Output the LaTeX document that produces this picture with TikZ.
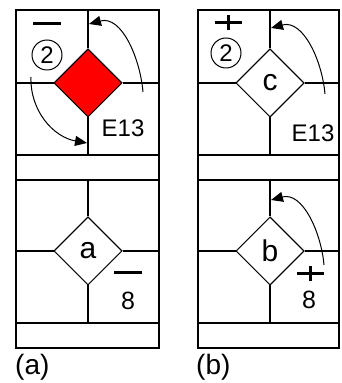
\documentclass[tikz,border=0pt]{standalone}
\usepackage{fontspec}
\setmainfont{Liberation Sans}
\usetikzlibrary{shapes.geometric,arrows.meta}

\tikzset{
    cell/.style={line width=2.5pt},
    gate/.style={diamond, draw, line width=1pt, fill=white, minimum width=68pt,
        minimum height=68pt, inner sep=0pt, font=\fontsize{30}{30}\selectfont},
    ring/.style={circle, draw, line width=1pt, minimum size=30pt, inner sep=0pt,
        font=\fontsize{24}{24}\selectfont},
    turn/.style={line width=1pt, -{Triangle[length=12pt,width=10pt]}},
    sign/.style={line width=3pt},
    lbl/.style={inner sep=0pt, font=\fontsize{25}{25}\selectfont},
    code/.style={inner sep=0pt, font=\fontsize{24}{24}\selectfont},
    caption/.style={inner sep=0pt, anchor=west, font=\fontsize{28}{28}\selectfont},
}

\begin{document}
\begin{tikzpicture}[x=1pt, y=1pt]
\useasboundingbox (0,0) rectangle (342,383);

% diamonds
\node [gate, fill=red] (leftTop) at (88,300) {};
\node [gate] (rightTop) at (270,300) {c};
\node [gate] (leftLow) at (88,132) {a};
\node [gate] (rightLow) at (270,132) {b};

% columns
\foreach \xl/\xm/\xr/\g in {16/88/159/left, 198/270/339/right}
{
    \draw [cell] (\xl,35) rectangle (\xr,373);
    \draw [cell] (\xl,228) -- (\xr,228);
    \draw [cell] (\xl,203) -- (\xr,203);
    \draw [cell] (\xl,60) -- (\xr,60);
    % top block
    \draw [cell] (\xm,373) -- (\g Top.north);
    \draw [cell] (\g Top.south) -- (\xm,228);
    \draw [cell] (\xl,300) -- (\g Top.west);
    \draw [cell] (\g Top.east) -- (\xr,300);
    % lower block
    \draw [cell] (\xm,203) -- (\g Low.north);
    \draw [cell] (\g Low.south) -- (\xm,60);
    \draw [cell] (\xl,132) -- (\g Low.west);
    \draw [cell] (\g Low.east) -- (\xr,132);
}

% diamonds again, over the grid
\node [gate, fill=red] at (leftTop) {};
\node [gate] at (rightTop) {c};
\node [gate] at (leftLow) {a};
\node [gate] at (rightLow) {b};

% panel (a)
\draw [sign] (33,359) -- (61,359);
\node [ring] (ringL) at (47,328) {2};
\node [code] (codeL) at (123,255) {E13};
\coordinate (upLs) at (143,291);
\coordinate (upLe) at (89,359);
\draw [turn] (upLs) to [out=95, in=15] (upLe);
\coordinate (downLs) at (31,306);
\coordinate (downLe) at (87,240);
\draw [turn] (downLs) to [out=-92, in=170] (downLe);
\draw [sign] (114,110) -- (142,110);
\node [lbl] (eightL) at (128,82) {8};
\node [caption] (capA) at (15,16) {(a)};

% panel (b)
\draw [sign] (214.5,360) -- ++(27,0) (228,352.5) -- ++(0,15);
\node [ring] (ringR) at (226,330) {2};
\node [code] (codeR) at (313,250) {E13};
\coordinate (upRs) at (325,289);
\coordinate (upRe) at (271,355);
\draw [turn] (upRs) to [out=95, in=15] (upRe);
\draw [sign] (296.5,109) -- ++(27,0) (310,101.5) -- ++(0,15);
\node [lbl] (eightR) at (309,83) {8};
\coordinate (upBs) at (324,118);
\coordinate (upBe) at (271,183);
\draw [turn] (upBs) to [out=95, in=15] (upBe);
\node [caption] (capB) at (196,16) {(b)};
\end{tikzpicture}
\end{document}
